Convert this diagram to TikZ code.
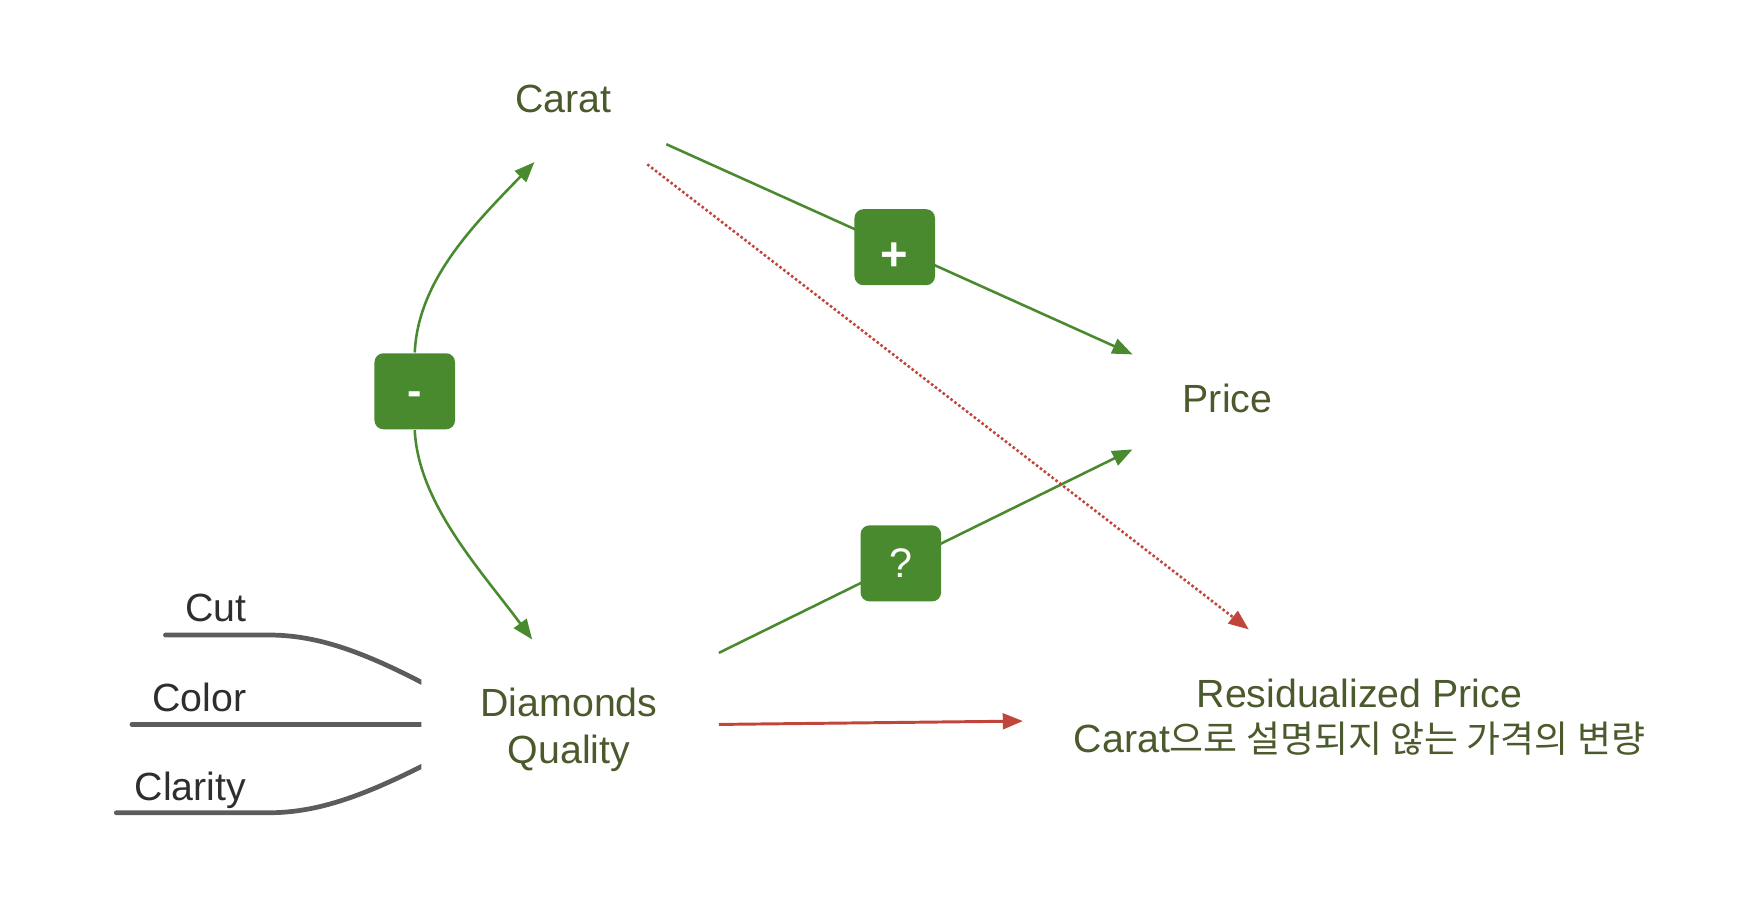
\documentclass[tikz,border=0pt]{standalone}
\usepackage{fontspec}
\setmainfont{Liberation Sans}
\newfontfamily\krfont[Scale=0.94]{Noto Sans CJK KR}
\usetikzlibrary{arrows.meta}
\definecolor{txtgreen}{HTML}{4B5A2C}
\definecolor{boxgreen}{HTML}{4A8A2F}
\definecolor{redline}{HTML}{C0453A}
\definecolor{grayline}{HTML}{5C5C5C}
\definecolor{labelgray}{HTML}{2E2E2E}
\begin{document}
\begin{tikzpicture}[x=0.01cm,y=-0.01cm,
  lbl/.style={font=\fontsize{10}{11.9}\selectfont, text=txtgreen, align=center, inner sep=0pt, anchor=base},
  sublbl/.style={font=\fontsize{10}{12}\selectfont, text=labelgray, inner sep=0pt, anchor=base east},
  signbox/.style={fill=boxgreen, rounded corners=0.08cm, minimum width=0.72cm, minimum height=0.68cm, text=white, inner sep=0pt},
  garrow/.style={draw=boxgreen, line width=0.65pt, -{Triangle[length=0.18cm,width=0.14cm]}},
  rarrow/.style={draw=redline, line width=0.75pt, -{Triangle[length=0.18cm,width=0.14cm]}},
  rdotted/.style={draw=redline, line width=0.65pt, dash pattern=on 0.65pt off 0.6pt, -{Triangle[length=0.18cm,width=0.14cm]}},
  grayl/.style={draw=grayline, line width=1.2pt, line cap=round}
]
\useasboundingbox (0,0) rectangle (1560,821);

% text nodes (base anchor = baseline of last line)
\node[lbl] (carat) at (504,101) {Carat};
\node[lbl] (price) at (1098,369) {Price};
\node[lbl] (dq) at (509,683) {Diamonds\\Quality};
\node[lbl, font=\fontsize{10}{11.4}\selectfont] (resid) at (1216,673) {Residualized Price\\Carat{\krfont 으로 설명되지 않는 가격의 변량}};

\node[sublbl] (cut) at (221,556) {Cut};
\node[sublbl] (color) at (221,636) {Color};
\node[sublbl] (clarity) at (221,716) {Clarity};

% connector end points
\coordinate (caratR) at (596,129);
\coordinate (caratD) at (579,147);
\coordinate (caratL) at (478,145);
\coordinate (priceT) at (1013,317);
\coordinate (priceB) at (1013,402);
\coordinate (dqR) at (643,584);
\coordinate (dqRed) at (643,648);
\coordinate (dqT) at (476,572);
\coordinate (residT) at (1117,563);
\coordinate (residL) at (915,645);

% green arrows with sign boxes
\draw[garrow] (caratR) -- node[signbox, pos=0.49, font=\fontsize{12}{12}\selectfont\bfseries] (plus) {\raisebox{-5.8pt}[0pt][0pt]{+}} (priceT);
\draw[garrow] (dqR) -- node[signbox, pos=0.44, font=\fontsize{10.5}{12}\selectfont] (quest) {?} (priceB);

\node[signbox, font=\fontsize{11}{12}\selectfont\bfseries] (minus) at (371,350) {\raisebox{-3.5pt}[0pt][0pt]{-}};
\draw[garrow] (minus.north) .. controls (374,250) and (425,200) .. (caratL);
\draw[garrow] (minus.south) .. controls (374,450) and (430,510) .. (dqT);

% red arrows
\draw[rdotted] (caratD) -- (residT);
\draw[rarrow] (dqRed) -- (residL);

% gray lines into Diamonds Quality
\begin{scope}
\clip (0,0) rectangle (377,821);
\draw[grayl] (148,568) -- (240,568) .. controls (280,568) and (320,580) .. (384,614);
\draw[grayl] (118,648) -- (384,648);
\draw[grayl] (104,727) -- (240,727) .. controls (280,727) and (320,715) .. (384,682);
\end{scope}
\end{tikzpicture}
\end{document}
